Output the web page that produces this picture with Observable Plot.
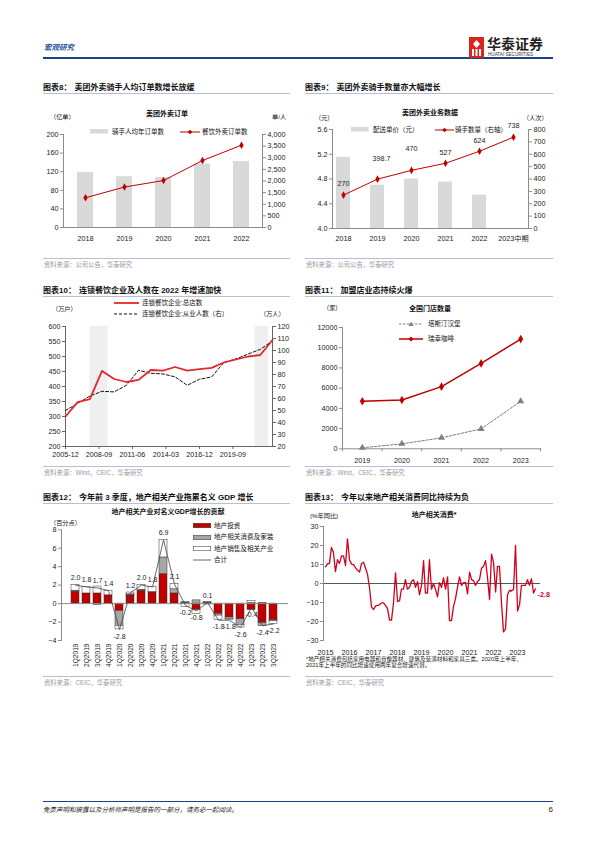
<!DOCTYPE html>
<html><head><meta charset="utf-8">
<script src="https://cdn.jsdelivr.net/npm/d3@7"></script>
<script src="https://cdn.jsdelivr.net/npm/@observablehq/plot@0.6"></script>
<style>
html,body{margin:0;padding:0}
body{width:596px;height:842px;position:relative;background:#fff;overflow:hidden;font-family:"Liberation Sans","Noto Sans CJK SC",sans-serif}
.t{position:absolute;white-space:nowrap;line-height:1}
.ln{position:absolute}
.chart{position:absolute}
.chart svg{overflow:visible}
</style></head><body>
<script>
// ================= DATA =================
// 图表8
const c8Years = ["2018", "2019", "2020", "2021", "2022"];
const c8Orders = [64, 87, 101, 144, 177];              // 餐饮外卖订单数（亿单，左轴）
const c8PerRider = [2370, 2182, 2149, 2732, 2837];     // 骑手人均年订单数（单/人，右轴）
const c8LeftTicks = [0, 40, 80, 120, 160, 200];
const c8RightTicks = [0, 500, 1000, 1500, 2000, 2500, 3000, 3500, 4000];

// 图表9
const c9Years = ["2018", "2019", "2020", "2021", "2022", "2023中期"];
const c9Price = [5.15, 4.70, 4.80, 4.75, 4.54, null];  // 配送单价（元）
const c9Riders = [270, 398.7, 470, 527, 624, 738];     // 骑手数量（万人次，右轴）
const c9Labels = ["270", "398.7", "470", "527", "624", "738"];
const c9LeftTicks = [4.0, 4.4, 4.8, 5.2, 5.6];
const c9RightTicks = [0, 100, 200, 300, 400, 500, 600, 700, 800];

// 图表10
const c10Years = [2005, 2006, 2007, 2008, 2009, 2010, 2011, 2012, 2013, 2014, 2015, 2016, 2017, 2018, 2019, 2020, 2021, 2022];
const c10Stores = [300, 348, 358, 452, 425, 415, 422, 455, 453, 465, 453, 458, 462, 480, 490, 500, 505, 555];
const c10Staff = [50, 56, 62, 66, 65.5, 71, 83.5, 81, 80.5, 78, 71, 76, 78, 90, 93, 97, 101, 108];
const c10TickLabels = ["2005-12", "2008-09", "2011-06", "2014-03", "2016-12", "2019-09"];
const c10Shaded = [["2007-12", "2009-06"], ["2021-07", "2022-08"]];
const c10LeftTicks = [200, 250, 300, 350, 400, 450, 500, 550, 600];
const c10RightTicks = [20, 30, 40, 50, 60, 70, 80, 90, 100, 110, 120];

// 图表11
const c11Years = [2019, 2020, 2021, 2022, 2023];
const c11Tastien = [100, 490, 1085, 1970, 4700];   // 塔斯汀汉堡
const c11Luckin = [4700, 4835, 6150, 8450, 10850]; // 瑞幸咖啡
const c11Ticks = [0, 2000, 4000, 6000, 8000, 10000, 12000];

// 图表12
const c12Quarters = ["1Q2019","2Q2019","3Q2019","4Q2019","1Q2020","2Q2020","3Q2020","4Q2020","1Q2021","2Q2021","3Q2021","4Q2021","1Q2022","2Q2022","3Q2022","4Q2022","1Q2023","2Q2023","3Q2023"];
const c12Invest  = [1.3, 1.1, 1.1, 0.9, -0.8, 0.9, 1.4, 1.2, 3.2, 1.1, 0.05, -0.7, 0.05, -1.1, -1.5, -1.7, -0.7, -2.1, -1.8];
const c12Consume = [0.1, 0.0, -0.15, 0.0, -1.6, 0.1, 0.1, 0.05, 1.8, 0.45, 0.1, 0.35, 0.15, -0.2, -0.15, -0.6, 0.05, -0.35, -0.1];
const c12Sales   = [0.6, 0.7, 0.75, 0.5, -0.4, 0.2, 0.5, 0.55, 1.9, 0.55, -0.35, -0.45, -0.1, -0.5, -0.15, -0.3, 0.25, 0.05, -0.3];
const c12Total   = [2.0, 1.8, 1.7, 1.4, -2.8, 1.2, 2.0, 1.8, 6.9, 2.1, -0.2, -0.8, 0.1, -1.8, -1.8, -2.6, -0.4, -2.4, -2.2];
const c12Series = ["地产投资", "地产相关消费及家装", "地产销售及相关产业"];
const c12Ticks = [-4, -2, 0, 2, 4, 6, 8];

// 图表13 (月度, 2015-01 起)
const c13Values = [
  8.8, 10.5, 10.5, 19, 16.5, 6.2, 12.5, 10.5, 14.5, 14.5, 9.5, 23.5,
  12.5, 10.2, 10, 8.2, 7, 6, 10.5, 11.2, 8, 4.8, -2.5, -12.3,
  -13.7, -11.8, -11.5, -11.2, -10.2, -10.2, -11.5, -13.2, -19.3, -19.3, -10, 5.6,
  -9.5, -9, -3, -3, 2, -3, -2, 1, 2, -2, 1, -6,
  -1, 12, -5, -5, 12.5, -3, 0, -3, -7, 0.5, -2, 3,
  -3, 3.5, -19.5, -19.5, -12, -8, -2, 3.5, -1, 0.5, 0.5, -5.5,
  6, 2, 1.5, -1, 1, 2, 8, 9, 12, 3, -8.5, 15.5,
  11, -4.5, 9, 9, -10, -25.5, -24, -6, -3.5, -4, -3, 20,
  -14.5, -11, -1, -1, -1, 2, -1, 2.5, -5, -2.8
];
const c13Years = [2015, 2016, 2017, 2018, 2019, 2020, 2021, 2022, 2023];
const c13Ticks = [-30, -20, -10, 0, 10, 20, 30];

// ================= HELPERS =================
const FONT = '"Liberation Sans","Noto Sans CJK SC",sans-serif';
const RED = "#c00000";
const AX = "#8c8c8c";
function txt(x, y, s, o = {}) {
  const d = document.createElement("div");
  d.className = "t";
  if (o.html) d.innerHTML = s; else d.textContent = s;
  d.style.left = x + "px"; d.style.top = y + "px";
  d.style.fontSize = (o.size || 7) + "px";
  if (o.bold) d.style.fontWeight = "bold";
  if (o.italic) d.style.fontStyle = "italic";
  d.style.color = o.color || "#111";
  const tx = o.anchor === "middle" ? "-50%" : o.anchor === "end" ? "-100%" : "0";
  d.style.transform = `translate(${tx},-50%)`;
  document.body.appendChild(d);
}
function hline(x1, x2, y, color, h = 1) {
  const d = document.createElement("div"); d.className = "ln";
  Object.assign(d.style, {left: x1 + "px", top: (y - h / 2) + "px", width: (x2 - x1) + "px", height: h + "px", background: color});
  document.body.appendChild(d);
}
function swatch(x, y, w, h, inner) {
  const d = document.createElement("div"); d.className = "ln";
  d.style.left = x + "px"; d.style.top = (y - h / 2) + "px";
  d.innerHTML = `<svg width="${w}" height="${h}" style="display:block;overflow:visible">${inner}</svg>`;
  document.body.appendChild(d);
}
function place(node, x, y) {
  const d = document.createElement("div"); d.className = "chart";
  d.style.left = x + "px"; d.style.top = y + "px";
  d.appendChild(node); document.body.appendChild(d);
}
function title(x, y, num, text, x2) {
  txt(x, y, `图表${num}：<span style="margin-left:3px">${text}</span>`, {html: true, size: 8, bold: true});
  hline(x, x2, y + 5.5, "#b3c0d6", 1);
}
function source(x, y, text, x2) {
  hline(x, x2, y - 7, "#b3c0d6", 1);
  txt(x + 1, y, text, {size: 6.3, color: "#9a9a9a"});
}
const baseStyle = {fontFamily: FONT, fontSize: "7.2px", color: "#222", background: "none", overflow: "visible"};
const diamond = (cx, cy, r, c) => `<path d="M${cx},${cy - r}L${cx + r},${cy}L${cx},${cy + r}L${cx - r},${cy}Z" fill="${c}"/>`;

// ================= HEADER / FOOTER =================
txt(44, 48, "宏观研究", {size: 7.5, bold: true, italic: true, color: "#1f4e96"});
hline(43, 553, 58, "#1f3f86", 2);
swatch(469, 47, 15, 21, `<rect width="15" height="21" fill="#d7261e"/><path d="M7.5,3L11,7L7.5,11L4,7Z" fill="#fff"/><rect x="3" y="12" width="2" height="7" fill="#fff"/><rect x="6.5" y="12" width="2" height="7" fill="#fff"/><rect x="10" y="12" width="2" height="7" fill="#fff"/>`);
txt(487, 44, "华泰证券", {size: 14, bold: true, color: "#222"});
txt(488, 54.5, "HUATAI SECURITIES", {size: 4.6, color: "#333"});
hline(43, 553, 801.5, "#1f3f86", 1.5);
txt(43, 810, "免责声明和披露以及分析师声明是报告的一部分，请务必一起阅读。", {size: 6.5, italic: true, color: "#222"});
txt(553, 810, "6", {size: 8, anchor: "end", color: "#222"});

// ================= 图表8 =================
title(43, 88, "8", "美团外卖骑手人均订单数增长放缓", 290);
source(43, 265, "资料来源：公司公告，华泰研究", 290);
txt(167, 112.7, "美团外卖订单", {size: 7, bold: true, anchor: "middle"});
txt(50, 116.7, "（亿单）", {size: 6.2});
txt(272, 116.7, "单/人", {size: 6.2});
swatch(90, 131.5, 18, 4.5, `<rect width="18" height="4.5" fill="#d9d9d9"/>`);
txt(112, 131.5, "骑手人均年订单数", {size: 6.5});
swatch(180, 131.5, 20, 6, `<line x1="0" y1="3" x2="20" y2="3" stroke="${RED}" stroke-width="1"/>${diamond(10, 3, 2.3, RED)}`);
txt(202, 131.5, "餐饮外卖订单数", {size: 6.5});
{
  const k = 20; // 右轴换算
  const data = c8Years.map((y, i) => ({year: y, orders: c8Orders[i], perRider: c8PerRider[i]}));
  place(Plot.plot({
    width: 250, height: 130, marginLeft: 23, marginRight: 28, marginTop: 14, marginBottom: 23,
    style: baseStyle,
    x: {type: "band", domain: c8Years, paddingInner: 0.59, paddingOuter: 0.3},
    y: {domain: [0, 200]},
    marks: [
      Plot.barY(data, {x: "year", y: d => d.perRider / k, fill: "#d9d9d9"}),
      Plot.frame({anchor: "left", stroke: AX}),
      Plot.frame({anchor: "right", stroke: AX}),
      Plot.frame({anchor: "bottom", stroke: AX}),
      Plot.axisY({anchor: "left", ticks: c8LeftTicks, tickSize: 3, tickPadding: 2, stroke: AX, label: null}),
      Plot.axisY({anchor: "right", ticks: c8RightTicks.map(v => v / k), tickFormat: d => d3.format(",")(Math.round(d * k)), tickSize: 3, tickPadding: 2, stroke: AX, label: null}),
      Plot.axisX({tickSize: 0, tickPadding: 8, label: null}),
      Plot.line(data, {x: "year", y: "orders", stroke: RED, strokeWidth: 1}),
      Plot.dot(data, {x: "year", y: "orders", symbol: "diamond", r: 2.3, fill: RED, stroke: "none"})
    ]
  }), 40, 120);
}

// ================= 图表9 =================
title(305, 88, "9", "美团外卖骑手数量亦大幅增长", 553);
source(305, 265, "资料来源：公司公告，华泰研究", 553);
txt(430, 112.3, "美团外卖业务数据", {size: 7, bold: true, anchor: "middle"});
txt(315, 117.7, "（元）", {size: 6.2});
txt(523, 117.7, "（人次）", {size: 6.2});
swatch(351, 129.5, 17.5, 4.5, `<rect width="17.5" height="4.5" fill="#d9d9d9"/>`);
txt(373, 129.7, "配送单价（元）", {size: 6.5});
swatch(435, 129.7, 19, 6, `<line x1="0" y1="3" x2="19" y2="3" stroke="${RED}" stroke-width="1"/>${diamond(9.5, 3, 2.3, RED)}`);
txt(455, 129.7, "骑手数量（右轴）", {size: 6.5});
{
  const r = v => 4 + v / 800 * 1.6; // 右轴换算到左轴
  const data = c9Years.map((y, i) => ({year: y, price: c9Price[i], riders: c9Riders[i], label: c9Labels[i]}));
  const dyOf = {"398.7": -20, "470": -22};
  place(Plot.plot({
    width: 260, height: 130, marginLeft: 32, marginRight: 32, marginTop: 14, marginBottom: 17,
    style: baseStyle,
    x: {type: "band", domain: c9Years, paddingInner: 0.58, paddingOuter: 0.15, align: 0.3},
    y: {domain: [4, 5.6]},
    marks: [
      Plot.barY(data.filter(d => d.price != null), {x: "year", y1: 4, y2: "price", fill: "#d9d9d9"}),
      Plot.frame({anchor: "left", stroke: AX}),
      Plot.frame({anchor: "right", stroke: AX}),
      Plot.frame({anchor: "bottom", stroke: AX}),
      Plot.axisY({anchor: "left", ticks: c9LeftTicks, tickFormat: ".1f", tickSize: 3, tickPadding: 2, stroke: AX, label: null}),
      Plot.axisY({anchor: "right", ticks: c9RightTicks.map(r), tickFormat: d => Math.round((d - 4) / 1.6 * 800), tickSize: 3, tickPadding: 2, stroke: AX, label: null}),
      Plot.axisX({tickSize: 0, tickPadding: 7, label: null}),
      Plot.line(data, {x: "year", y: d => r(d.riders), stroke: RED, strokeWidth: 1}),
      Plot.dot(data, {x: "year", y: d => r(d.riders), symbol: "diamond", r: 2.3, fill: RED, stroke: "none"}),
      Plot.text(data.filter(d => !(d.label in dyOf)), {x: "year", y: d => r(d.riders), text: "label", dy: -11, fontSize: 7.2, fill: "#222"}),
      Plot.text(data.filter(d => d.label === "398.7"), {x: "year", y: d => r(d.riders), text: "label", dy: dyOf["398.7"], dx: 4, fontSize: 7.2, fill: "#222"}),
      Plot.text(data.filter(d => d.label === "470"), {x: "year", y: d => r(d.riders), text: "label", dy: dyOf["470"], fontSize: 7.2, fill: "#222"})
    ]
  }), 300, 115);
}

// ================= 图表10 =================
title(43, 291, "10", "连锁餐饮企业及人数在 2022 年增速加快", 290);
source(43, 473, "资料来源：Wind，CEIC，华泰研究", 290);
swatch(114, 303.3, 25, 4, `<line x1="0" y1="2" x2="25" y2="2" stroke="#e3262b" stroke-width="1.8"/>`);
txt(142, 303.3, "连锁餐饮企业:总店数", {size: 6.5});
swatch(114, 314.3, 25, 4, `<line x1="0" y1="2" x2="25" y2="2" stroke="#111" stroke-width="1" stroke-dasharray="3,2"/>`);
txt(142, 314.3, "连锁餐饮企业:从业人数（右）", {size: 6.5});
txt(52, 309.3, "（万户）", {size: 6.2});
txt(260, 314.3, "（万人）", {size: 6.2});
{
  const parseM = s => { const [y, m] = s.split("-").map(Number); return new Date(Date.UTC(y, m - 1, 1)); };
  const toL = v => 200 + (v - 20) * 4;
  const data = c10Years.map((y, i) => ({date: new Date(Date.UTC(y, 11, 1)), stores: c10Stores[i], staff: c10Staff[i]}));
  const shade = c10Shaded.map(([a, b]) => ({a: parseM(a), b: parseM(b)}));
  place(Plot.plot({
    width: 250, height: 142, marginLeft: 25, marginRight: 18, marginTop: 8, marginBottom: 14,
    style: baseStyle,
    x: {type: "utc", domain: [parseM("2005-12"), parseM("2022-12")]},
    y: {domain: [200, 600]},
    marks: [
      Plot.rect(shade, {x1: "a", x2: "b", y1: 200, y2: 600, fill: "#efefef"}),
      Plot.frame({anchor: "left", stroke: "#666"}),
      Plot.frame({anchor: "right", stroke: "#666"}),
      Plot.frame({anchor: "bottom", stroke: "#666"}),
      Plot.axisY({anchor: "left", ticks: c10LeftTicks, tickSize: 3, tickPadding: 2, stroke: "#666", label: null}),
      Plot.axisY({anchor: "right", ticks: c10RightTicks.map(toL), tickFormat: d => Math.round((d - 200) / 4 + 20), tickSize: 3, tickPadding: 2, stroke: "#666", label: null}),
      Plot.axisX({ticks: c10TickLabels.map(parseM), tickFormat: d3.utcFormat("%Y-%m"), tickSize: 3, tickPadding: 2.5, stroke: "#666", label: null}),
      Plot.line(data, {x: "date", y: d => toL(d.staff), stroke: "#111", strokeWidth: 1, strokeDasharray: "3,2"}),
      Plot.line(data, {x: "date", y: "stores", stroke: "#e3262b", strokeWidth: 1.8})
    ]
  }), 40, 318);
}

// ================= 图表11 =================
title(305, 291, "11", "加盟店业态持续火爆", 553);
source(305, 473, "资料来源：Wind，CEIC，华泰研究", 553);
txt(430, 308.3, "全国门店数量", {size: 7, bold: true, anchor: "middle"});
txt(323, 308.3, "（家）", {size: 6.2});
swatch(399, 324.3, 24, 6, `<line x1="0" y1="3" x2="24" y2="3" stroke="#808080" stroke-width="1" stroke-dasharray="2.5,1.5"/><path d="M12,0.5L14.5,5L9.5,5Z" fill="#808080"/>`);
txt(428, 324.3, "塔斯汀汉堡", {size: 6.5});
swatch(399, 339, 24, 6, `<line x1="0" y1="3" x2="24" y2="3" stroke="${RED}" stroke-width="1.5"/>${diamond(12, 3, 2.5, RED)}`);
txt(428, 339, "瑞幸咖啡", {size: 6.5});
{
  const data = c11Years.map((y, i) => ({year: y, tastien: c11Tastien[i], luckin: c11Luckin[i]}));
  const edges = [c11Years[0] - 0.5, ...c11Years.map(y => y + 0.5)];
  place(Plot.plot({
    width: 260, height: 145, marginLeft: 42, marginRight: 20, marginTop: 9, marginBottom: 14.7,
    style: baseStyle,
    x: {domain: [c11Years[0] - 0.5, c11Years[c11Years.length - 1] + 0.5]},
    y: {domain: [0, 12000]},
    marks: [
      Plot.frame({anchor: "left", stroke: AX}),
      Plot.frame({anchor: "bottom", stroke: AX}),
      Plot.axisY({anchor: "left", ticks: c11Ticks, tickFormat: d => String(d), tickSize: 3, tickPadding: 2, stroke: AX, label: null}),
      Plot.axisX({ticks: edges, tickFormat: () => "", tickSize: 3, stroke: AX, label: null}),
      Plot.axisX({ticks: c11Years, tickFormat: d => String(d), tickSize: 0, tickPadding: 9, label: null}),
      Plot.line(data, {x: "year", y: "tastien", stroke: "#808080", strokeWidth: 1, strokeDasharray: "2.5,1.5"}),
      Plot.dot(data, {x: "year", y: "tastien", symbol: "triangle", r: 2.6, fill: "#808080", stroke: "none"}),
      Plot.line(data, {x: "year", y: "luckin", stroke: RED, strokeWidth: 1.5}),
      Plot.dot(data, {x: "year", y: "luckin", symbol: "diamond", r: 2.6, fill: RED, stroke: "none"})
    ]
  }), 300, 318);
}

// ================= 图表12 =================
title(43, 498.3, "12", "今年前 3 季度，地产相关产业拖累名义 GDP 增长", 290);
source(43, 683, "资料来源：CEIC，华泰研究", 290);
txt(168, 511, "地产相关产业对名义GDP增长的贡献", {size: 7, bold: true, anchor: "middle"});
txt(50, 522.7, "（百分点）", {size: 6.2});
{
  const legendY = [525.7, 537.3, 548.5, 560];
  const fills = ["#c00000", "#a6a6a6", "#ffffff"];
  c12Series.forEach((s, i) => {
    swatch(193, legendY[i], 18, 5, `<rect x="0.25" y="0.25" width="17.5" height="4.5" fill="${fills[i]}" stroke="#333" stroke-width="0.5"/>`);
    txt(214, legendY[i], s, {size: 6.6});
  });
  swatch(193, legendY[3], 18, 2, `<line x1="0" y1="1" x2="18" y2="1" stroke="#444" stroke-width="0.8"/>`);
  txt(214, legendY[3], "合计", {size: 6.6});

  const cols = [c12Invest, c12Consume, c12Sales];
  const long = [];
  c12Quarters.forEach((q, i) => c12Series.forEach((s, j) => long.push({q, series: s, v: cols[j][i]})));
  const totals = c12Quarters.map((q, i) => ({q, total: c12Total[i]}));
  place(Plot.plot({
    width: 250, height: 150, marginLeft: 21, marginRight: 2, marginTop: 7.3, marginBottom: 32,
    style: baseStyle,
    x: {type: "band", domain: c12Quarters, paddingInner: 0.25, paddingOuter: 0.1},
    y: {domain: [-4, 8]},
    color: {domain: c12Series, range: fills},
    marks: [
      Plot.barY(long, {x: "q", y: "v", fill: "series", stroke: "#333", strokeWidth: 0.5}),
      Plot.ruleY([0], {stroke: AX}),
      Plot.frame({anchor: "left", stroke: AX}),
      Plot.axisY({anchor: "left", ticks: c12Ticks, tickSize: 3, tickPadding: 2, stroke: AX, label: null}),
      Plot.axisX({tickRotate: -90, tickSize: 0, tickPadding: 3, fontSize: 6.6, label: null}),
      Plot.line(totals, {x: "q", y: "total", stroke: "#444", strokeWidth: 0.8}),
      Plot.text(totals.filter(d => d.total >= 0), {x: "q", y: "total", text: d => d.total.toFixed(1), dy: -7, fontSize: 7, fill: "#222"}),
      Plot.text(totals.filter(d => d.total < 0), {x: "q", y: "total", text: d => d.total.toFixed(1), dy: 7, fontSize: 7, fill: "#222"})
    ]
  }), 40, 522);
}

// ================= 图表13 =================
title(305, 498.3, "13", "今年以来地产相关消费同比持续为负", 553);
source(305, 683, "资料来源：CEIC，华泰研究", 553);
txt(434, 514.3, "地产相关消费*", {size: 7, bold: true, anchor: "middle"});
txt(310, 516, "(%年同比)", {size: 6.2});
txt(306, 659.5, "*地产相关消费包括家用电器和音像器材、建筑及装潢材料和家具三类。2020年上半年、", {size: 5.6, color: "#222"});
txt(306, 666, "2021年上半年的同比增速使用两年复合增速代替。", {size: 5.6, color: "#222"});
{
  const data = c13Values.map((v, i) => ({date: new Date(Date.UTC(2015, i, 1)), v}));
  const last = data[data.length - 1];
  place(Plot.plot({
    width: 260, height: 140, marginLeft: 23, marginRight: 20, marginTop: 8, marginBottom: 18,
    style: baseStyle,
    x: {type: "utc", domain: [new Date(Date.UTC(2014, 11, 1)), new Date(Date.UTC(2023, 11, 16))]},
    y: {domain: [-30, 30]},
    marks: [
      Plot.ruleY([0], {stroke: "#555"}),
      Plot.frame({anchor: "left", stroke: AX}),
      Plot.axisY({anchor: "left", ticks: c13Ticks, tickSize: 3, tickPadding: 2, stroke: AX, label: null}),
      Plot.axisX({ticks: c13Years.map(y => new Date(Date.UTC(y, 0, 1))), tickFormat: d3.utcFormat("%Y"), tickSize: 0, tickPadding: 9, label: null}),
      Plot.line(data, {x: "date", y: "v", stroke: "#d0021b", strokeWidth: 1.3}),
      Plot.text([last], {x: "date", y: "v", text: d => d.v.toFixed(1), dx: 2, dy: 6, textAnchor: "start", fill: "#d0021b", fontSize: 7.2, fontWeight: "bold"})
    ]
  }), 300, 518);
}
</script>
</body></html>
